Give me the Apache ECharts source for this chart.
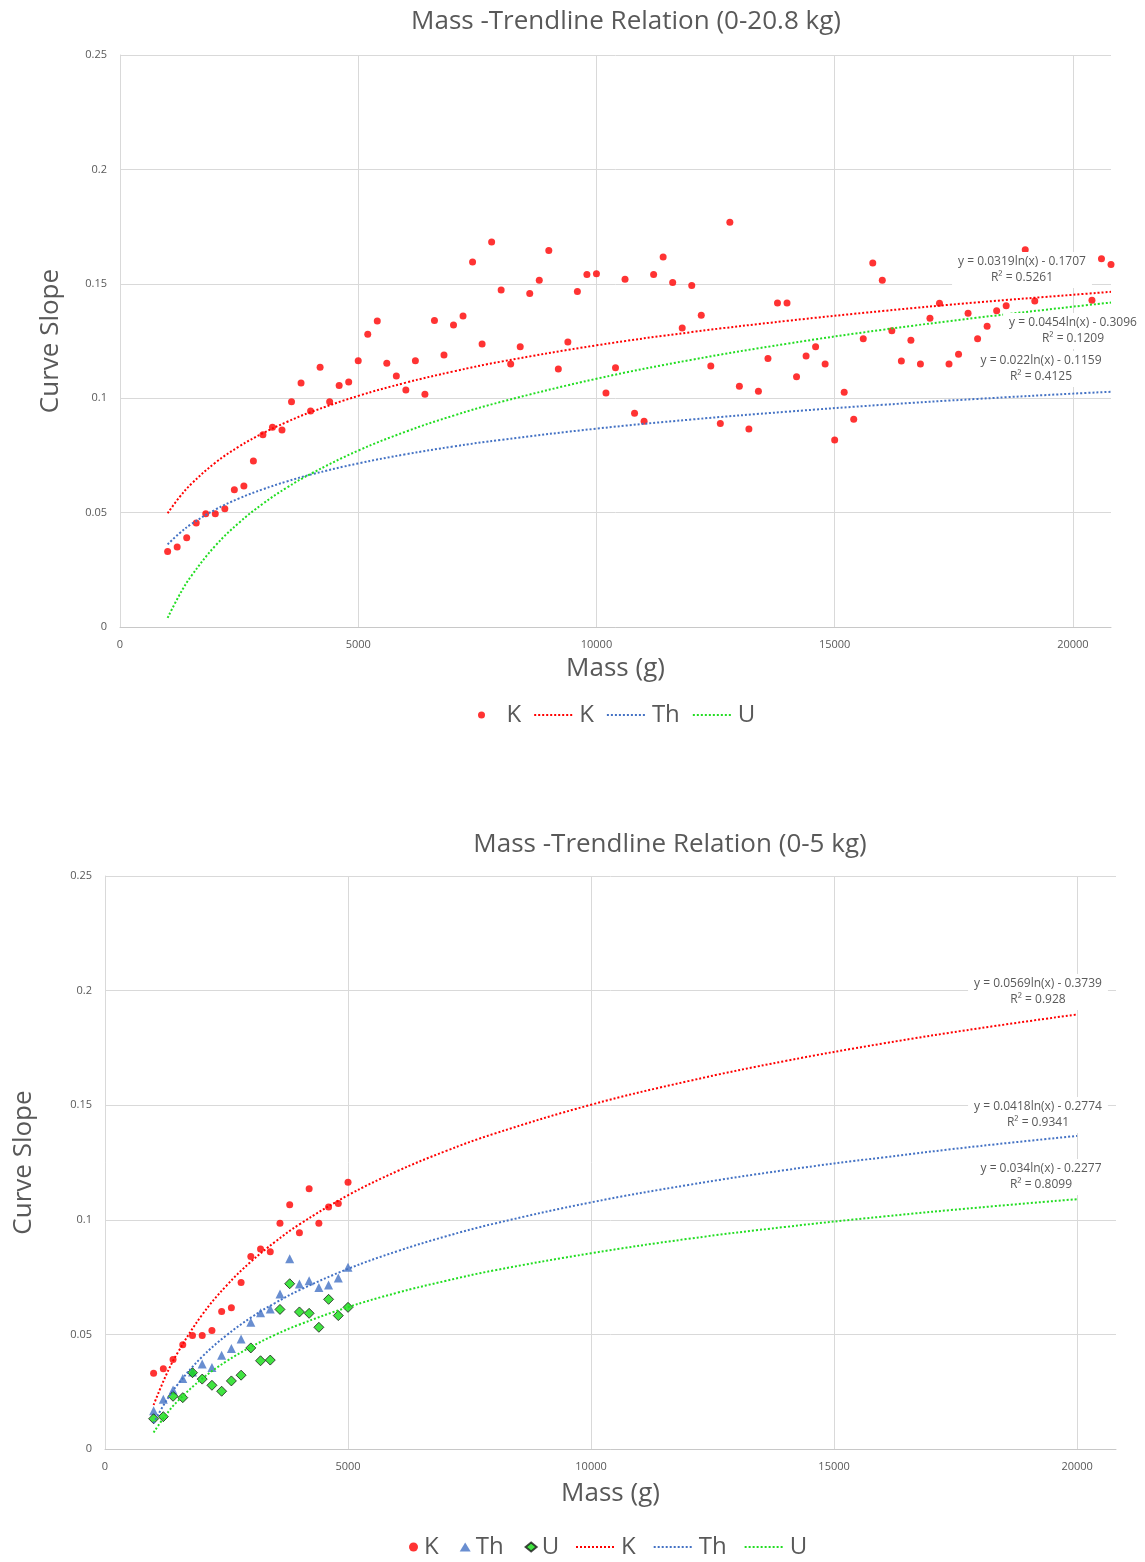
<!DOCTYPE html>
<html>
<head>
<meta charset="utf-8">
<script src="https://cdn.jsdelivr.net/npm/echarts@6/dist/echarts.min.js"></script>
<style>
  html, body { margin: 0; padding: 0; background: #fff; }
  #main { width: 1145px; height: 1562px; }
</style>
</head>
<body>
<div id="main"></div>
<script>
// sample masses (g)
const mass = [
  1000, 1200, 1400, 1600, 1800, 2000, 2200, 2400, 2600, 2800,
  3000, 3200, 3400, 3600, 3800, 4000, 4200, 4400, 4600, 4800,
  5000, 5200, 5400, 5600, 5800, 6000, 6200, 6400, 6600, 6800,
  7000, 7200, 7400, 7600, 7800, 8000, 8200, 8400, 8600, 8800,
  9000, 9200, 9400, 9600, 9800, 10000, 10200, 10400, 10600, 10800,
  11000, 11200, 11400, 11600, 11800, 12000, 12200, 12400, 12600, 12800,
  13000, 13200, 13400, 13600, 13800, 14000, 14200, 14400, 14600, 14800,
  15000, 15200, 15400, 15600, 15800, 16000, 16200, 16400, 16600, 16800,
  17000, 17200, 17400, 17600, 17800, 18000, 18200, 18400, 18600, 18800,
  19000, 19200, 19400, 19600, 19800, 20000, 20200, 20400, 20600, 20800
];
// K curve slope
const kSlope = [
  0.033, 0.035, 0.039, 0.0455, 0.0495, 0.0495, 0.0517, 0.060, 0.0616, 0.0726,
  0.084, 0.0873, 0.0861, 0.0985, 0.1066, 0.0944, 0.1135, 0.0985, 0.1056, 0.1071,
  0.1164, 0.1279, 0.1337, 0.1153, 0.1097, 0.1036, 0.1164, 0.1017, 0.134, 0.1189,
  0.132, 0.1359, 0.1595, 0.1237, 0.1683, 0.1473, 0.115, 0.1225, 0.1458, 0.1515,
  0.1646, 0.1128, 0.1246, 0.1466, 0.1541, 0.1544, 0.1023, 0.1133, 0.152, 0.0934,
  0.0899, 0.1541, 0.1617, 0.1506, 0.1307, 0.1493, 0.1362, 0.1141, 0.0889, 0.1769,
  0.1052, 0.0865, 0.103, 0.1174, 0.1416, 0.1416, 0.1094, 0.1184, 0.1225, 0.1149,
  0.0817, 0.1026, 0.0908, 0.126, 0.1591, 0.1516, 0.1295, 0.1163, 0.1253, 0.1149,
  0.1349, 0.1415, 0.1149, 0.1192, 0.1371, 0.126, 0.1314, 0.1382, 0.1404, 0.13,
  0.1649, 0.1425, 0.118, 0.155, 0.127, 0.112, 0.134, 0.1428, 0.161, 0.1584
];
// Th and U slopes, 1000-5000 g (second chart)
const thSlope = [
  0.0167, 0.0217, 0.0257, 0.0308, 0.0336, 0.0371, 0.0356, 0.0409, 0.0439, 0.048,
  0.0553, 0.0595, 0.0611, 0.0676, 0.083, 0.072, 0.0734, 0.0705, 0.0716, 0.0746, 0.0793
];
const uSlope = [
  0.0132, 0.0141, 0.023, 0.0224, 0.0333, 0.0305, 0.0278, 0.0252, 0.0297, 0.0322,
  0.0441, 0.0385, 0.0388, 0.0609, 0.0721, 0.0598, 0.0592, 0.0531, 0.0653, 0.0582, 0.0618
];

// trendline points
const trendMassTop = [1000, 1250, 1500, 2000, 2500, 3000, 3500, 4000, 5000, 6000, 7000, 8000, 10000, 12000, 14000, 16000, 18000, 20000, 20800];
const kTrendTop  = [0.0497, 0.0568, 0.0626, 0.0718, 0.0789, 0.0847, 0.0896, 0.0939, 0.1010, 0.1068, 0.1117, 0.1160, 0.1231, 0.1289, 0.1338, 0.1381, 0.1419, 0.1452, 0.1465];
const thTrendTop = [0.0361, 0.0410, 0.0450, 0.0513, 0.0562, 0.0602, 0.0636, 0.0666, 0.0715, 0.0755, 0.0789, 0.0818, 0.0867, 0.0907, 0.0941, 0.0971, 0.0997, 0.1020, 0.1028];
const uTrendTop  = [0.0040, 0.0141, 0.0224, 0.0355, 0.0456, 0.0539, 0.0609, 0.0669, 0.0771, 0.0854, 0.0924, 0.0984, 0.1085, 0.1168, 0.1238, 0.1299, 0.1352, 0.1400, 0.1418];

const trendMassBot = [1000, 1250, 1500, 2000, 2500, 3000, 3500, 4000, 5000, 6000, 7000, 8000, 10000, 12000, 14000, 16000, 18000, 20000];
const kTrendBot  = [0.0192, 0.0319, 0.0422, 0.0586, 0.0713, 0.0817, 0.0904, 0.0980, 0.1107, 0.1211, 0.1299, 0.1375, 0.1502, 0.1605, 0.1693, 0.1769, 0.1836, 0.1896];
const thTrendBot = [0.0113, 0.0207, 0.0283, 0.0403, 0.0496, 0.0573, 0.0637, 0.0693, 0.0786, 0.0862, 0.0927, 0.0983, 0.1076, 0.1152, 0.1217, 0.1272, 0.1322, 0.1366];
const uTrendBot  = [0.0072, 0.0148, 0.0210, 0.0307, 0.0383, 0.0445, 0.0498, 0.0543, 0.0619, 0.0681, 0.0733, 0.0779, 0.0854, 0.0917, 0.0969, 0.1014, 0.1054, 0.1090];

const massSmall = mass.slice(0, 21);
const kSmall = kSlope.slice(0, 21);

const RED = '#ff0000', BLUE = '#4472c4', GREEN = '#22dd22';
const TXT = '#595959';
const FONT = 'Open Sans';
const GRID = '#d9d9d9';

function pairs(xs, ys) { return xs.map((x, i) => [x, ys[i]]); }

function xAxisOf(grid, gap) {
  return {
    gridIndex: grid, type: 'value', min: 0, max: 20800, interval: 5000,
    name: 'Mass (g)', nameLocation: 'middle', nameGap: gap,
    nameTextStyle: { fontSize: 26, color: TXT },
    axisLine: { lineStyle: { color: '#c8c8c8' } },
    axisTick: { show: false },
    axisLabel: { color: TXT, fontSize: 11, margin: 12, showMaxLabel: false, formatter: v => String(v) },
    splitLine: { showMaxLine: false, lineStyle: { color: [GRID, GRID, GRID, GRID, GRID, 'rgba(0,0,0,0)'] } }
  };
}
function yAxisOf(grid, gap) {
  return {
    gridIndex: grid, type: 'value', min: 0, max: 0.25, interval: 0.05,
    name: 'Curve Slope', nameLocation: 'middle', nameGap: gap,
    nameTextStyle: { fontSize: 26, color: TXT },
    axisLine: { show: true, lineStyle: { color: GRID } },
    axisTick: { show: false },
    axisLabel: { color: TXT, fontSize: 11, margin: 13 },
    splitLine: { lineStyle: { color: GRID } }
  };
}
function trend(name, grid, xs, ys, color) {
  return {
    name: name, type: 'line', xAxisIndex: grid, yAxisIndex: grid,
    data: pairs(xs, ys), smooth: 0.4, symbol: 'none', showSymbol: false,
    lineStyle: { color: color, width: 2, type: 'dotted' },
    itemStyle: { color: color }, z: 3, silent: true
  };
}
function lineItem(name) {
  return { name: name, itemStyle: { opacity: 0 } };
}
function eqLabel(text, x, y) {
  return {
    type: 'text', x: x, y: y, z: 100,
    style: {
      text: text, fill: TXT, font: '12px "Open Sans"', align: 'center',
      lineHeight: 16, backgroundColor: '#ffffff', padding: [2, 6]
    }
  };
}

const chart = echarts.init(document.getElementById('main'));
chart.setOption({
  animation: false,
  textStyle: { fontFamily: FONT },
  title: [
    { text: 'Mass -Trendline Relation (0-20.8 kg)', left: 626, top: 9, textAlign: 'center', padding: 0,
      textStyle: { fontSize: 26, fontWeight: 'normal', color: TXT } },
    { text: 'Mass -Trendline Relation (0-5 kg)', left: 670, top: 832, textAlign: 'center', padding: 0,
      textStyle: { fontSize: 26, fontWeight: 'normal', color: TXT } }
  ],
  grid: [
    { left: 120, right: 34, top: 55, bottom: 935 },
    { left: 105, right: 29, top: 876, bottom: 113 }
  ],
  xAxis: [xAxisOf(0, 29), xAxisOf(1, 32)],
  yAxis: [yAxisOf(0, 56), yAxisOf(1, 68)],
  legend: [
    { data: ['K', lineItem('K trend'), lineItem('Th trend'), lineItem('U trend')], left: 478, top: 703, padding: 0,
      itemWidth: 40, itemHeight: 7, itemGap: 12,
      formatter: n => n.replace(' trend', ''),
      textStyle: { fontSize: 24, color: TXT } },
    { data: ['K', 'Th', 'U'], left: 409, top: 1535, padding: 0,
      itemWidth: 11, itemHeight: 9, itemGap: 21,
      textStyle: { fontSize: 24, color: TXT } },
    { data: [lineItem('K trend'), lineItem('Th trend'), lineItem('U trend')], left: 575, top: 1535, padding: 0,
      itemWidth: 40, itemHeight: 7, itemGap: 17,
      formatter: n => n.replace(' trend', ''),
      textStyle: { fontSize: 24, color: TXT } }
  ],
  series: [
    { name: 'K', type: 'scatter', xAxisIndex: 0, yAxisIndex: 0, data: pairs(mass, kSlope),
      symbol: 'circle', symbolSize: 7, itemStyle: { color: RED } },
    trend('K trend', 0, trendMassTop, kTrendTop, RED),
    trend('Th trend', 0, trendMassTop, thTrendTop, BLUE),
    trend('U trend', 0, trendMassTop, uTrendTop, GREEN),

    { name: 'K', type: 'scatter', xAxisIndex: 1, yAxisIndex: 1, data: pairs(massSmall, kSmall),
      symbol: 'circle', symbolSize: 7, itemStyle: { color: RED } },
    { name: 'Th', type: 'scatter', xAxisIndex: 1, yAxisIndex: 1, data: pairs(massSmall, thSlope),
      symbol: 'triangle', symbolSize: 9, itemStyle: { color: BLUE } },
    { name: 'U', type: 'scatter', xAxisIndex: 1, yAxisIndex: 1, data: pairs(massSmall, uSlope),
      symbol: 'diamond', symbolSize: 10, itemStyle: { color: '#11dd11', borderColor: '#1a1a1a', borderWidth: 1 } },
    trend('K trend', 1, trendMassBot, kTrendBot, RED),
    trend('Th trend', 1, trendMassBot, thTrendBot, BLUE),
    trend('U trend', 1, trendMassBot, uTrendBot, GREEN)
  ],
  graphic: [
    eqLabel('y = 0.0319ln(x) - 0.1707\nR² = 0.5261', 1022, 252),
    eqLabel('y = 0.0454ln(x) - 0.3096\nR² = 0.1209', 1073, 313),
    eqLabel('y = 0.022ln(x) - 0.1159\nR² = 0.4125', 1041, 351),
    eqLabel('y = 0.0569ln(x) - 0.3739\nR² = 0.928', 1038, 974),
    eqLabel('y = 0.0418ln(x) - 0.2774\nR² = 0.9341', 1038, 1097),
    eqLabel('y = 0.034ln(x) - 0.2277\nR² = 0.8099', 1041, 1159)
  ]
});
</script>
</body>
</html>
